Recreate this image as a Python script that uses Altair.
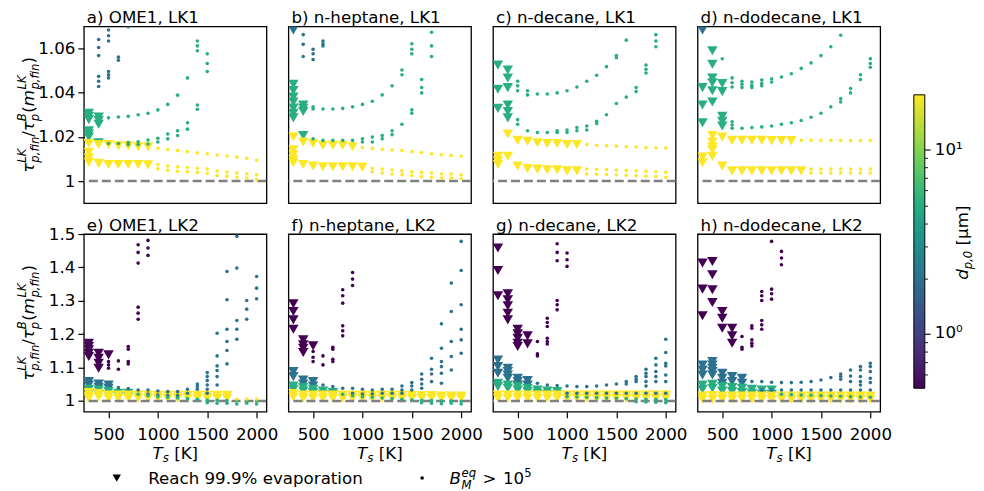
import altair as alt
import pandas as pd

FONT = "DejaVu Sans"
FS = 16.7
SS = 11.7

# ---------------- data ----------------
TS = [300, 400, 500, 600, 700, 800, 900, 1000, 1100, 1200, 1300, 1400, 1500, 1600, 1700, 1800, 1900, 2000]

D_YEL, D_GRN, D_BLU, D_PUR = 20.0, 5.0, 2.0, 0.5

# series: (initial diameter [um], marker, first T_s, values of tau ratio per T_s step)
A_SERIES = [
    (D_BLU, "dot", 400, [[1.0641, 1.0605, 1.0568, 1.0474, 1.0452, 1.0428], [1.0684, 1.0658, 1.0634, 1.0496, 1.0481, 1.0467], [1.0561, 1.0547], [1.0699]]),
    (D_GRN, "tri", 300, [[1.0307, 1.0293, 1.0278, 1.0228, 1.0213, 1.0199], [1.029, 1.0274, 1.0257, 1.0173]]),
    (D_GRN, "dot", 500, [[1.0286], [1.029], [1.0293], [1.030], [1.0307], [1.0322], [1.0347], [1.0389], [1.0467], [1.0634, 1.0612, 1.059]]),
    (D_GRN, "dot", 500, [[1.017], [1.017], [1.0174, 1.0165], [1.0178, 1.0165], [1.0186, 1.0168], [1.0194, 1.0177], [1.0213, 1.0191], [1.0228, 1.0206], [1.0264, 1.0235], [1.0344, 1.0325], [1.0576, 1.0532, 1.0496]]),
    (D_YEL, "tri", 300, [[1.017, 1.013, 1.0105, 1.0085], [1.0165, 1.008], [1.0165, 1.0075], [1.016, 1.0075], [1.016, 1.0075], [1.0155, 1.0075], [1.0155, 1.0073]]),
    (D_YEL, "dot", 1000, [[1.0148, 1.0075, 1.0055], [1.0143, 1.0068, 1.0049], [1.0138, 1.0064, 1.0044], [1.0133, 1.0061, 1.0042], [1.0128, 1.0058, 1.0039], [1.0123, 1.0054, 1.0035], [1.0118, 1.0045, 1.0025], [1.0113, 1.0041, 1.0022], [1.0108, 1.0036, 1.0017], [1.0103, 1.0033, 1.0014], [1.0094, 1.0028, 1.0007]]),
]

B_SERIES = [
    (D_BLU, "tri", 300, [[1.0684]]),
    (D_BLU, "dot", 400, [[1.0663, 1.0619, 1.0564], [1.0597, 1.0576, 1.055], [1.0634, 1.0622, 1.0612]]),
    (D_GRN, "tri", 300, [[1.0438, 1.041, 1.038, 1.0358, 1.033, 1.0307, 1.0286], [1.0344, 1.0329, 1.0315, 1.0206]]),
    (D_GRN, "dot", 500, [[1.0336, 1.0326], [1.0326], [1.0326], [1.0329], [1.0336], [1.0347], [1.0361], [1.039], [1.0431], [1.0503, 1.0481], [1.0622, 1.0597, 1.0576]]),
    (D_GRN, "dot", 500, [[1.0191], [1.0184], [1.0184], [1.0184], [1.0184], [1.0191, 1.0177], [1.0199, 1.0177], [1.0206, 1.0191], [1.0228, 1.021], [1.0257], [1.0322, 1.0307], [1.046, 1.0423, 1.0399], [1.0674, 1.0612, 1.0564]]),
    (D_YEL, "tri", 300, [[1.020], [1.0177], [1.017], [1.0162], [1.0162], [1.0162], [1.0155]]),
    (D_YEL, "dot", 1000, [[1.0152], [1.0148], [1.0144], [1.0141], [1.0138], [1.0133], [1.0129], [1.0123], [1.0119], [1.0116], [1.0112]]),
    (D_YEL, "tri", 300, [[1.0141, 1.0119, 1.0097, 1.0083], [1.0075], [1.0068], [1.0065], [1.0065], [1.0065], [1.0064], [1.0062]]),
    (D_YEL, "dot", 1100, [[1.0058, 1.0042], [1.0054, 1.0036], [1.0051, 1.0032], [1.0046, 1.0028], [1.0042, 1.0025], [1.0039, 1.002], [1.0036, 1.0017], [1.0032, 1.0014], [1.0032, 1.0013], [1.0028, 1.001]]),
]

C_SERIES = [
    (D_GRN, "tri", 300, [[1.0525, 1.0416, 1.0329], [1.0503, 1.0467, 1.0423, 1.0344, 1.0315, 1.0286]]),
    (D_GRN, "dot", 500, [[1.0452, 1.0431, 1.0409], [1.0409, 1.039], [1.0394], [1.0394], [1.0399], [1.0409], [1.0426], [1.0452], [1.0479], [1.0518], [1.0568, 1.0558], [1.0638]]),
    (D_GRN, "dot", 500, [[1.0278, 1.0257], [1.0228], [1.022], [1.022], [1.0228, 1.022], [1.0231, 1.022], [1.0242, 1.0228], [1.0249, 1.0231], [1.0271, 1.026], [1.03], [1.0351], [1.038], [1.0423, 1.0405], [1.0525, 1.0506, 1.0489], [1.0663, 1.0634, 1.0608]]),
    (D_YEL, "tri", 400, [[1.0213], [1.0184], [1.018], [1.0173], [1.017], [1.017], [1.0165], [1.0165]]),
    (D_YEL, "dot", 1200, [[1.0165], [1.0162], [1.016], [1.0158], [1.0155], [1.0154], [1.0152], [1.0151], [1.015]]),
    (D_YEL, "tri", 300, [[1.0112, 1.009, 1.0075], [1.0112], [1.0068], [1.0057], [1.0054], [1.0051], [1.0051], [1.0046], [1.0046]]),
    (D_YEL, "dot", 1200, [[1.0054, 1.0032], [1.0053, 1.0031], [1.0052, 1.003], [1.005, 1.0028], [1.0048, 1.0026], [1.0046, 1.0024], [1.0044, 1.0022], [1.0042, 1.002], [1.0039, 1.0017]]),
]

D_SERIES = [
    (D_BLU, "tri", 300, [[1.0684]]),
    (D_GRN, "tri", 300, [[1.0423, 1.0344, 1.0264], [1.059, 1.0529, 1.0467, 1.0445, 1.0409, 1.0358], [1.0442, 1.0405, 1.0293, 1.0271, 1.0249]]),
    (D_GRN, "dot", 500, [[1.0554], [1.0467, 1.0445, 1.0426], [1.0452, 1.0438, 1.0423], [1.0448, 1.0434, 1.0423], [1.0457, 1.0442, 1.0431], [1.0463, 1.0448], [1.0471], [1.0486], [1.051], [1.0535], [1.0568], [1.0608], [1.066]]),
    (D_GRN, "dot", 600, [[1.0268, 1.0254, 1.0239], [1.0239], [1.0242], [1.0245], [1.0249], [1.0257], [1.0264], [1.0274], [1.0289], [1.0307], [1.0336], [1.0373, 1.0358], [1.0419, 1.0399], [1.0481, 1.046], [1.0554, 1.0532, 1.0515]]),
    (D_YEL, "tri", 400, [[1.0206, 1.0177], [1.0199], [1.0184], [1.0184], [1.0184], [1.0184], [1.0183], [1.0183], [1.0183]]),
    (D_YEL, "dot", 1300, [[1.0184], [1.0184], [1.0184], [1.0184], [1.0183], [1.0183], [1.0183], [1.0183]]),
    (D_YEL, "tri", 300, [[1.0109, 1.0083], [1.0155, 1.0141, 1.0112], [1.0068], [1.0046], [1.0046], [1.0046], [1.0046], [1.0046], [1.0046], [1.0046], [1.0046]]),
    (D_YEL, "dot", 1400, [[1.0054, 1.0036], [1.0054, 1.0036], [1.0054, 1.0036], [1.0054, 1.0036], [1.0054, 1.0036], [1.0054, 1.0036], [1.0054, 1.0036]]),
]

E_SERIES = [
    (D_PUR, "tri", 300, [[1.173, 1.163, 1.153, 1.143, 1.133], [1.143, 1.128, 1.113, 1.098], [1.138]]),
    (D_PUR, "dot", 500, [[1.118, 1.108, 1.098], [1.12, 1.095], [1.163, 1.155, 1.118, 1.111], [1.468, 1.445, 1.413, 1.281, 1.263, 1.245], [1.481, 1.458, 1.436]]),
    (D_BLU, "tri", 300, [[1.058, 1.048], [1.051, 1.041], [1.048, 1.038]]),
    (D_BLU, "dot", 600, [[1.04], [1.037], [1.033], [1.033, 1.021], [1.03, 1.018], [1.028, 1.016], [1.028, 1.016], [1.035, 1.023], [1.051, 1.043, 1.035], [1.085, 1.073, 1.061, 1.048, 1.035, 1.023], [1.203, 1.135, 1.105, 1.091, 1.073, 1.048], [1.388, 1.303, 1.215, 1.178, 1.151, 1.111], [1.493, 1.398, 1.241, 1.215, 1.185], [1.301, 1.275, 1.245], [1.373, 1.338, 1.306]]),
    (D_GRN, "tri", 300, [[1.035, 1.023], [1.033, 1.021], [1.028, 1.018], [1.023, 1.015], [1.023, 1.015]]),
    (D_GRN, "dot", 800, [[1.02], [1.016], [1.013], [1.011], [1.009], [1.007], [1.005], [1.003, 0.995], [1.002, 0.993], [1.001, 0.993], [1.001, 0.991], [1.0, 0.993], [1.0, 0.991]]),
    (D_YEL, "tri", 300, [[1.025, 1.015, 1.008], [1.022, 1.012], [1.018, 1.008], [1.018, 1.008], [1.018, 1.008], [1.018, 1.008], [1.018, 1.008], [1.017, 1.008], [1.017, 1.008], [1.017, 1.008], [1.017, 1.008], [1.017, 1.008], [1.017, 1.008], [1.017, 1.008], [1.017, 1.008]]),
    (D_YEL, "dot", 1800, [[1.006], [1.006], [1.006]]),
]

F_SERIES = [
    (D_PUR, "tri", 300, [[1.291, 1.268, 1.243, 1.215], [1.183, 1.168, 1.158, 1.145], [1.165]]),
    (D_PUR, "dot", 500, [[1.148, 1.131, 1.118], [1.135, 1.108], [1.161, 1.155, 1.125, 1.118], [1.333, 1.315, 1.293, 1.225, 1.21, 1.195], [1.385, 1.365, 1.346]]),
    (D_BLU, "tri", 300, [[1.088, 1.073], [1.063, 1.051], [1.058, 1.045]]),
    (D_BLU, "dot", 600, [[1.048], [1.043], [1.038], [1.038, 1.023], [1.035, 1.021], [1.033, 1.021], [1.035, 1.023], [1.035, 1.023], [1.045, 1.033, 1.023], [1.055, 1.045, 1.033], [1.081, 1.065, 1.051, 1.038], [1.128, 1.095, 1.081, 1.058], [1.231, 1.158, 1.118, 1.103, 1.083, 1.053], [1.353, 1.268, 1.178, 1.133, 1.093], [1.478, 1.391, 1.288, 1.215, 1.183, 1.143]]),
    (D_GRN, "tri", 300, [[1.045, 1.035], [1.04, 1.03], [1.035, 1.025], [1.03, 1.02], [1.025, 1.018]]),
    (D_GRN, "dot", 800, [[1.02], [1.016], [1.013], [1.011], [1.009], [1.007], [1.005], [1.003], [1.002, 0.995], [1.001, 0.993], [1.0, 0.992], [1.0, 0.993], [0.999, 0.991]]),
    (D_YEL, "tri", 300, [[1.022, 1.012], [1.018, 1.008], [1.018, 1.008], [1.018, 1.008], [1.018, 1.008], [1.018, 1.008], [1.018, 1.008], [1.017, 1.008], [1.017, 1.008], [1.017, 1.008], [1.017, 1.008], [1.017, 1.008], [1.017, 1.008], [1.016, 1.008], [1.016, 1.008], [1.015, 1.008], [1.015, 1.008], [1.015, 1.008]]),
]

G_SERIES = [
    (D_PUR, "tri", 300, [[1.458, 1.391, 1.315], [1.321, 1.303, 1.285, 1.263, 1.243], [1.215, 1.201, 1.188, 1.173, 1.163], [1.195, 1.171]]),
    (D_PUR, "dot", 700, [[1.178, 1.141, 1.135], [1.248, 1.235, 1.223, 1.188, 1.178, 1.171], [1.471, 1.445, 1.42, 1.301, 1.288, 1.273], [1.443, 1.423, 1.403]]),
    (D_BLU, "tri", 300, [[1.123, 1.103, 1.083], [1.098, 1.088, 1.078, 1.068], [1.068, 1.058, 1.048], [1.061, 1.048]]),
    (D_BLU, "dot", 700, [[1.053], [1.048], [1.046], [1.045, 1.023], [1.043, 1.023], [1.043, 1.023], [1.045, 1.023], [1.048, 1.023], [1.051, 1.023], [1.058, 1.051, 1.023], [1.073, 1.065, 1.058, 1.023], [1.095, 1.083, 1.073, 1.058, 1.045, 1.023], [1.128, 1.108, 1.088, 1.073, 1.058, 1.023], [1.185, 1.145, 1.113, 1.105, 1.078, 1.058, 1.023]]),
    (D_GRN, "tri", 300, [[1.053, 1.043], [1.048, 1.038], [1.043, 1.033], [1.038, 1.028], [1.033, 1.023], [1.03, 1.02], [1.028, 1.018]]),
    (D_GRN, "dot", 1000, [[1.013], [1.012], [1.011], [1.01], [1.009], [1.008], [1.007], [1.006, 0.998], [1.005, 0.997], [1.005, 0.996], [1.004, 0.995]]),
    (D_YEL, "tri", 300, [[1.018, 1.008], [1.018, 1.008], [1.018, 1.008], [1.018, 1.008], [1.018, 1.008], [1.018, 1.008], [1.018, 1.008], [1.018, 1.008], [1.018, 1.008], [1.018, 1.008], [1.018, 1.008], [1.018, 1.008], [1.018, 1.008], [1.018, 1.008], [1.018, 1.008], [1.018, 1.008], [1.018, 1.008], [1.018, 1.008]]),
]

H_SERIES = [
    (D_PUR, "tri", 300, [[1.413, 1.335, 1.255], [1.418, 1.378, 1.333, 1.295], [1.268, 1.248, 1.218], [1.218, 1.195, 1.173]]),
    (D_PUR, "dot", 700, [[1.193, 1.161, 1.155], [1.225, 1.218, 1.183, 1.173, 1.165], [1.328, 1.315, 1.301, 1.241, 1.228, 1.215], [1.478, 1.335, 1.321, 1.305], [1.448, 1.428, 1.408]]),
    (D_BLU, "tri", 300, [[1.108, 1.093, 1.078], [1.118, 1.108, 1.098, 1.088, 1.078], [1.083, 1.068, 1.053], [1.073, 1.058], [1.068, 1.053]]),
    (D_BLU, "dot", 800, [[1.058], [1.058, 1.033], [1.056, 1.033], [1.055, 1.033], [1.055, 1.033], [1.056, 1.033], [1.058, 1.033], [1.063, 1.033], [1.07, 1.033], [1.081, 1.073, 1.065, 1.033], [1.093, 1.075, 1.058, 1.033], [1.103, 1.093, 1.073, 1.058, 1.048, 1.033], [1.113, 1.103, 1.088, 1.068, 1.055, 1.033]]),
    (D_GRN, "tri", 300, [[1.048, 1.035], [1.05, 1.038], [1.043, 1.03], [1.04, 1.028], [1.038, 1.025], [1.035, 1.023], [1.033, 1.02], [1.033, 1.02]]),
    (D_GRN, "dot", 1100, [[1.02], [1.019], [1.018], [1.017], [1.016], [1.015], [1.014], [1.013], [1.012], [1.011]]),
    (D_YEL, "tri", 300, [[1.015, 1.005], [1.016, 1.005], [1.015, 1.005], [1.015, 1.005], [1.015, 1.005], [1.015, 1.005], [1.015, 1.005], [1.015, 1.005], [1.015, 1.005], [1.015, 1.005], [1.015, 1.005], [1.015, 1.005], [1.015, 1.005], [1.015, 1.005], [1.015, 1.005], [1.015, 1.005], [1.015, 1.005], [1.015, 1.005]]),
]

TOP_TITLES = ["a) OME1, LK1", "b) n-heptane, LK1", "c) n-decane, LK1", "d) n-dodecane, LK1"]
BOT_TITLES = ["e) OME1, LK2", "f) n-heptane, LK2", "g) n-decane, LK2", "h) n-dodecane, LK2"]

X_DOMAIN = [250, 2100]
X_TICKS = [500, 1000, 1500, 2000]
TOP_Y_DOMAIN = [0.99, 1.07]
TOP_Y_TICKS = [1.0, 1.02, 1.04, 1.06]
BOT_Y_DOMAIN = [0.968, 1.5]
BOT_Y_TICKS = [1.0, 1.1, 1.2, 1.3, 1.4, 1.5]
REF_LINE = [1.0]
CB_DOMAIN = [0.5, 20]
CB_LABELS = [1, 10]
CB_TICK_VALUES = [0.6, 0.7, 0.8, 0.9, 1, 2, 3, 4, 5, 6, 7, 8, 9, 10]

LEG_TEXT_1 = "Reach 99.9% evaporation"

# ---------------- layout ----------------
W = 183
H_TOP = 177
H_BOT = 178
LEFT_EXT = 75.3
PLOT_X0 = 83.3   # page x of the first column's plot area
PLOT_Y0 = 24.5   # page y of the top row's plot area
BOT_Y0 = 231.3   # page y of the bottom row's plot area
COL_X = [PLOT_X0 + i * (W + 22) for i in range(4)]
CB_X, CB_Y, CB_LEN, CB_THICK = 915, 93, 294, 11
CB_TITLE_X, CB_TITLE_Y = 969, 240
ROW2_TOP = PLOT_Y0 + H_TOP + 0.65   # page y where the bottom row's bounds start

Y_TITLE_PIECES = [
    ("τ", FS, 0.0, 0, True),
    ("LK", SS, 10.0, -7.5, True),
    ("p,fin", SS, 10.0, 5, True),
    ("/", FS, 36.0, 0, False),
    ("τ", FS, 41.6, 0, True),
    ("B", SS, 51.6, -7.5, True),
    ("p", SS, 51.6, 5, True),
    ("(", FS, 60.0, 0, False),
    ("m", FS, 66.5, 0, True),
    ("LK", SS, 83.3, -7.5, True),
    ("p,fin", SS, 83.3, 5, True),
    (")", FS, 109.5, 0, False),
]
Y_TITLE_W = 116.0

X_TITLE_PIECES = [("T", FS, 0.0, 0, True), ("s", SS, 10.4, 3.5, True), ("[K]", FS, 21.8, 0, False)]
X_TITLE_W = 45.6

B_PIECES = [
    ("B", FS, 0.0, 0, True),
    ("eq", SS, 12.0, -7.5, True),
    ("M", SS, 12.0, 4.5, True),
    (">", FS, 33.0, 0, False),
    ("10", FS, 53.5, 0, False),
    ("5", SS, 74.7, -7.5, False),
]

CB_TITLE_PIECES = [("d", FS, 0.0, 0, True), ("p,0", SS, 10.6, 4, True), ("[μm]", FS, 34.5, 0, False)]
CB_TITLE_W = 74.4


def to_frame(series):
    rows = []
    for d, m, t0, cols in series:
        i0 = TS.index(t0)
        for k, ys in enumerate(cols):
            for y in ys:
                rows.append({"T": TS[i0 + k], "y": y, "d": d, "m": m})
    df = pd.DataFrame(rows)
    return df.sort_values("d", kind="stable").reset_index(drop=True)


def pieces(plist, x0, y0, angle, start):
    out = []
    for txt, size, off, shift, ital in plist:
        out.append(
            alt.Chart(pd.DataFrame({"t": [txt]}))
            .mark_text(angle=angle, align="left", baseline="alphabetic", font=FONT,
                       fontSize=size, fontStyle="italic" if ital else "normal",
                       color="black", dx=start + off, dy=shift)
            .encode(text="t:N", x=alt.value(x0), y=alt.value(y0))
        )
    return out


def spacer(x1, y1, x2, y2):
    return alt.Chart(pd.DataFrame({"k": [0]})).mark_rule(opacity=0, strokeWidth=0.01).encode(
        x=alt.value(x1), x2=alt.value(x2), y=alt.value(y1), y2=alt.value(y2))


def cb_ticks(origin_x, origin_y, lo, hi):
    """Colour-bar tick marks (log positions of CB_TICK_VALUES) on the bar's right side."""
    lg_hi, lg_lo = CB_DOMAIN[1], CB_DOMAIN[0]
    base = alt.Chart(pd.DataFrame({"v": CB_TICK_VALUES})).transform_calculate(
        py=f"{CB_Y - origin_y} + (log({lg_hi}) - log(datum.v)) / (log({lg_hi}) - log({lg_lo})) * {CB_LEN}"
    ).transform_filter(
        f"datum.py + {origin_y} >= {lo} && datum.py + {origin_y} <= {hi}"
    )
    x1 = CB_X + CB_THICK - origin_x
    major = base.transform_filter("datum.v == 1 || datum.v == 10").mark_rule(
        color="black", strokeWidth=1.1).encode(
        x=alt.value(x1), x2=alt.value(x1 + 5.8), y=alt.Y("py:Q", scale=None, axis=None))
    minor = base.transform_filter("datum.v != 1 && datum.v != 10").mark_rule(
        color="black", strokeWidth=0.9).encode(
        x=alt.value(x1), x2=alt.value(x1 + 3.3), y=alt.Y("py:Q", scale=None, axis=None))
    return [major, minor]


COLOR = alt.Color(
    "d:Q",
    scale=alt.Scale(type="log", domain=CB_DOMAIN, scheme="viridis"),
    legend=alt.Legend(
        orient="none", legendX=CB_X - PLOT_X0, legendY=CB_Y - PLOT_Y0, direction="vertical",
        gradientLength=CB_LEN, gradientThickness=CB_THICK, gradientStrokeColor="black",
        gradientStrokeWidth=1, values=CB_LABELS,
        labelExpr="datum.value < 5 ? '10⁰' : '10¹'",
        labelFont=FONT, labelFontSize=FS, labelColor="black", labelOffset=10,
        title=None, padding=0,
    ),
)


def panel(title, series, ydom, yticks, yfmt, h, show_y, show_x, extra):
    df = to_frame(series)
    xaxis = alt.Axis(values=X_TICKS, format="d", labelFont=FONT, labelFontSize=FS,
                     labelColor="black", tickColor="black", tickSize=6, tickWidth=1.2,
                     labelPadding=9, domain=False, grid=False, title=None,
                     labelFlush=False, labelOverlap=False) if show_x else None
    yaxis = alt.Axis(values=yticks, labelExpr=f"datum.value == 1 ? '1' : format(datum.value, '{yfmt}')",
                     labelFont=FONT, labelFontSize=FS, labelColor="black", tickColor="black",
                     tickSize=6, tickWidth=1.2, labelPadding=3, domain=False, grid=False,
                     title=None, labelFlush=False, labelOverlap=False) if show_y else None
    xenc = alt.X("T:Q", scale=alt.Scale(domain=X_DOMAIN, nice=False, zero=False), axis=xaxis)
    yenc = alt.Y("y:Q", scale=alt.Scale(domain=ydom, nice=False, zero=False), axis=yaxis)
    base = alt.Chart(df)
    tri = base.transform_filter(alt.datum.m == "tri").mark_point(
        shape="triangle-down", filled=True, size=110, opacity=1, clip=True, strokeWidth=0
    ).encode(x=xenc, y=yenc, color=COLOR)
    dot = base.transform_filter(alt.datum.m == "dot").mark_circle(
        size=13, opacity=1, clip=True
    ).encode(x=xenc, y=yenc, color=COLOR)
    rule = alt.Chart(pd.DataFrame({"y": REF_LINE})).mark_rule(
        color="#808080", strokeDash=[9, 4], strokeWidth=2.3, clip=True
    ).encode(y=yenc)
    ttl = alt.Chart(pd.DataFrame({"t": [title]})).mark_text(
        align="left", baseline="alphabetic", font=FONT, fontSize=FS, color="black"
    ).encode(text="t:N", x=alt.value(3), y=alt.value(-3.3))
    layers = [tri, rule, dot, ttl] + extra
    return alt.layer(*layers).properties(width=W, height=h)


def ytitle(h):
    return pieces(Y_TITLE_PIECES, -50, h / 2, 270, -Y_TITLE_W / 2)


def xtitle():
    return pieces(X_TITLE_PIECES, W / 2, H_BOT + 47, 0, -X_TITLE_W / 2)


legend_layers = [
    alt.Chart(pd.DataFrame({"k": ["tri"]})).mark_point(
        shape="triangle-down", filled=True, size=70, color="black", opacity=1
    ).encode(x=alt.value(33), y=alt.value(H_BOT + 66.5)),
    alt.Chart(pd.DataFrame({"t": [LEG_TEXT_1]})).mark_text(
        align="left", baseline="alphabetic", font=FONT, fontSize=FS, color="black"
    ).encode(text="t:N", x=alt.value(64.5), y=alt.value(H_BOT + 72.5)),
    alt.Chart(pd.DataFrame({"k": ["dot"]})).mark_circle(size=13, color="black", opacity=1).encode(
        x=alt.value(339), y=alt.value(H_BOT + 66.5)),
] + pieces(B_PIECES, 366.5, H_BOT + 72.5, 0, 0)

# colour-bar title, rotated, drawn from the last bottom panel
cb_title_layers = pieces(CB_TITLE_PIECES, CB_TITLE_X - COL_X[3], CB_TITLE_Y - BOT_Y0, 270,
                         -CB_TITLE_W / 2) + [spacer(CB_TITLE_X - COL_X[3], ROW2_TOP - BOT_Y0,
                                                    CB_TITLE_X - COL_X[3], 0)]

SERIES_TOP = [A_SERIES, B_SERIES, C_SERIES, D_SERIES]
SERIES_BOT = [E_SERIES, F_SERIES, G_SERIES, H_SERIES]

top = []
for i in range(4):
    extra = []
    if i == 0:
        extra = ytitle(H_TOP) + [spacer(-LEFT_EXT, 8 - PLOT_Y0, -LEFT_EXT, 0)]
    if i == 3:
        extra = cb_ticks(COL_X[3], PLOT_Y0, 0, ROW2_TOP - 1)
    top.append(panel(TOP_TITLES[i], SERIES_TOP[i], TOP_Y_DOMAIN, TOP_Y_TICKS, ".2f", H_TOP,
                     i == 0, False, extra))
bot = []
for i in range(4):
    extra = xtitle()
    if i == 0:
        extra = extra + ytitle(H_BOT) + legend_layers + [spacer(-LEFT_EXT, 0, -LEFT_EXT, 10)]
    if i == 3:
        extra = extra + cb_title_layers + cb_ticks(COL_X[3], BOT_Y0, ROW2_TOP + 1, 1000)
    bot.append(panel(BOT_TITLES[i], SERIES_BOT[i], BOT_Y_DOMAIN, BOT_Y_TICKS, ".1f", H_BOT,
                     i == 0, True, extra))

chart = alt.vconcat(
    alt.hconcat(*top, spacing=22, bounds="flush"),
    alt.hconcat(*bot, spacing=22, bounds="flush"),
    spacing=0,
).properties(
    padding={"left": 0, "top": 0, "right": 0, "bottom": 0}
).resolve_scale(color="shared").configure(background="white").configure_view(
    stroke="black", strokeWidth=1.3
)

chart.save("out.html", embed_options={"renderer": "svg", "actions": False})
